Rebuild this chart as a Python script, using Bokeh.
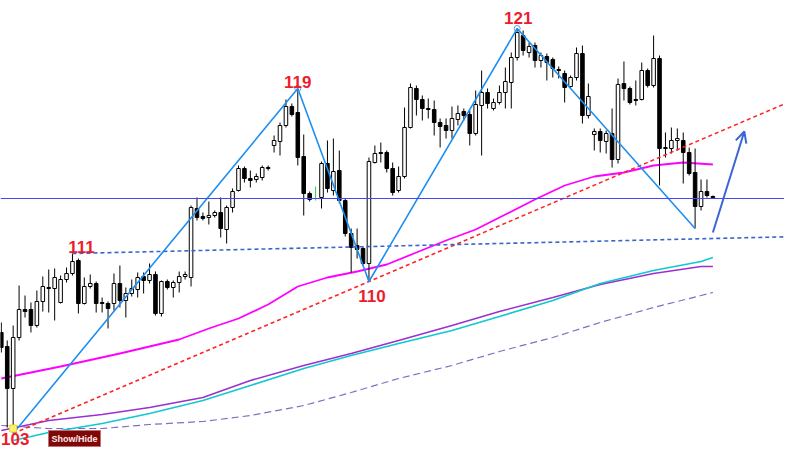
from bokeh.plotting import figure
from bokeh.models import ColumnDataSource, Range1d, Span, Arrow, OpenHead, Label
from bokeh.embed import file_html
from bokeh.resources import INLINE
from bokeh.core.properties import value

# ---------------- data (weekly candles, price in chart points) ----------------
open_ = [131, 117, 75, 126, 154, 154, 138, 162, 176, 175, 161, 184, 190, 203, 160, 177, 180, 161, 160, 160,
         180, 163, 170, 174, 187, 183, 189, 150, 182, 176, 181, 187, 186, 255, 247, 246, 248, 251, 234, 256,
         273, 295, 285, 284, 286, 295, 318, 322, 338, 357, 351, 307, 270, 270, 266, 300, 273, 293, 263, 230,
         218, 215, 200, 301, 311, 311, 295, 273, 287, 336, 375, 364, 355, 354, 341, 338, 333, 344, 352, 349,
         330, 358, 371, 355, 361, 371, 381, 406, 428, 411, 418, 403, 407, 404, 394, 390, 377, 386, 410, 348,
         329, 332, 322, 330, 304, 380, 375, 364, 364, 393, 378, 405, 315, 315, 323, 323, 311, 291, 257, 272,
         267]
high = [141, 123, 138, 178, 168, 161, 173, 187, 194, 195, 188, 196, 210, 205, 186, 189, 182, 166, 162, 190,
        198, 176, 184, 191, 191, 200, 192, 183, 184, 183, 192, 192, 258, 266, 251, 262, 253, 266, 258, 275,
        298, 297, 293, 290, 298, 298, 328, 341, 364, 360, 375, 329, 272, 277, 302, 323, 325, 313, 265, 235,
        235, 217, 306, 318, 321, 313, 301, 297, 356, 380, 378, 368, 365, 363, 345, 345, 357, 358, 355, 353,
        373, 393, 375, 365, 378, 396, 411, 435, 433, 421, 421, 411, 410, 406, 397, 393, 388, 416, 418, 380,
        335, 335, 333, 355, 385, 402, 377, 383, 401, 395, 428, 408, 331, 336, 335, 331, 316, 315, 284, 284,
        268]
low = [111, 36, 30, 123, 146, 131, 136, 152, 151, 143, 160, 181, 188, 150, 159, 175, 151, 151, 135, 153,
       156, 146, 167, 166, 170, 180, 148, 147, 174, 166, 171, 184, 177, 243, 243, 239, 246, 226, 220, 251,
       272, 281, 276, 281, 283, 293, 311, 308, 336, 347, 298, 248, 262, 263, 255, 271, 268, 260, 227, 191,
       205, 198, 182, 300, 301, 291, 268, 271, 285, 335, 348, 343, 345, 328, 316, 325, 325, 338, 343, 318,
       328, 308, 355, 353, 359, 355, 355, 403, 408, 406, 396, 396, 383, 386, 385, 361, 375, 383, 340, 345,
       313, 311, 310, 296, 300, 363, 359, 358, 363, 376, 376, 278, 306, 310, 313, 280, 288, 235, 253, 266,
       265]
close = [116, 75, 126, 154, 152, 138, 162, 177, 175, 186, 184, 190, 202, 160, 177, 180, 160, 160, 155, 180,
         163, 170, 175, 186, 183, 189, 150, 182, 176, 181, 187, 189, 256, 246, 245, 248, 251, 235, 256, 272,
         295, 285, 283, 287, 296, 296, 323, 338, 357, 349, 306, 270, 264, 270, 300, 275, 292, 263, 230, 216,
         214, 200, 302, 310, 310, 295, 271, 287, 336, 376, 364, 355, 354, 341, 337, 333, 345, 350, 348, 330,
         359, 371, 360, 361, 371, 382, 406, 431, 413, 417, 403, 408, 401, 395, 393, 376, 386, 410, 348, 367,
         332, 323, 330, 304, 379, 375, 361, 363, 393, 378, 405, 315, 316, 323, 325, 311, 290, 257, 272, 268,
         266]

# moving averages (bar index, value)
ma_fast_idx = [0, 10, 20, 30, 35, 40, 45, 50, 55, 60, 65, 70, 75, 80, 85, 90, 95, 100, 105, 110, 115, 120]
ma_fast = [85, 97, 110, 124, 135, 145, 159, 177, 186, 192, 199, 211, 223, 234, 249, 264, 278, 287, 291, 298, 301, 299]

ma_slow_idx = [0, 8, 17, 25, 34, 42, 51, 59, 67, 76, 84, 93, 101, 110, 118, 120]
ma_cyan_idx = [2, 8, 17, 25, 34, 42, 51, 59, 67, 76, 84, 93, 101, 110, 118, 120]
ma_cyan = [23, 31, 40, 50, 63, 78, 95, 108, 120, 133, 147, 163, 180, 193, 202, 206]
ma_purple = [33, 43, 49, 56, 66, 83, 98, 110, 123, 138, 152, 166, 179, 190, 197, 197]
ma_dashed = [38, 35, 35, 39, 42, 48, 58, 71, 85, 98, 112, 126, 141, 156, 168, 171]

# zigzag pivots
zigzag_idx = [2, 50, 62, 87, 117]
zigzag_kind = ["L", "H", "L", "H", "L"]

# pivot labels: (bar index, kind, text, x offset px, y offset px)
label_idx = [2, 12, 50, 62, 87]
label_kind = ["L", "H", "H", "L", "H"]
label_text = ["103", "111", "119", "110", "121"]
label_dx = [2, 9, 0, 3, 1]
label_dy = [5, -7, -7, 14, -11]

# levels / trend lines (anchors in bar index, price)
horizontal_level = 265
red_trend = [(2, 30), (120, 329)]
neck_trend = [(12, 210), (120, 225)]
trend_end_idx = 136
projection = [(120, 231), (125.3, 332)]

# ---------------- figure ----------------
p = figure(width=784, height=447, output_backend="svg", toolbar_location=None,
           x_range=Range1d(-0.135, 132.075), y_range=Range1d(16, 463),
           x_axis_location=None, y_axis_location=None, min_border=0)
p.outline_line_color = None
p.background_fill_color = "white"
p.border_fill_color = "white"
p.grid.visible = False

FONT_NAME = "Liberation Sans"
FONT = value(FONT_NAME)

# moving averages
p.line(ma_slow_idx, ma_dashed, color="#7d6fc4", line_width=1.2, line_dash="7 4")
p.line(ma_slow_idx, ma_purple, color="#9a30d0", line_width=1.6)
p.line(ma_cyan_idx, ma_cyan, color="#10c8d0", line_width=1.6)
p.line(ma_fast_idx, ma_fast, color="#ff00ff", line_width=1.8)

# horizontal level
p.add_layout(Span(location=horizontal_level, dimension="width", line_color="#4646ff", line_width=1))

# candles
n = len(open_)
idx = list(range(n))
up = [c > o for o, c in zip(open_, close)]
doji = [c == o for o, c in zip(open_, close)]
wick_col = ["#3ccc3c" if d else "black" for d in doji]
src = ColumnDataSource(dict(x=idx, l=low, h=high, lc=wick_col))
p.segment(x0="x", y0="l", x1="x", y1="h", source=src, line_color="lc", line_width=1)
keep = [i for i in idx if not doji[i]]
bsrc = ColumnDataSource(dict(
    x=keep,
    top=[max(open_[i], close[i]) for i in keep],
    bot=[min(open_[i], close[i]) for i in keep],
    fill=["white" if up[i] else "black" for i in keep],
))
p.vbar(x="x", top="top", bottom="bot", width=0.6, source=bsrc, fill_color="fill", line_color="black", line_width=1)

# trend lines
def extend(a, b, x_end):
    (x0, y0), (x1, y1) = a, b
    s = (y1 - y0) / (x1 - x0)
    return [x0, x_end], [y0, y0 + s * (x_end - x0)]

rx, ry = extend(red_trend[0], red_trend[1], trend_end_idx)
p.line(rx, ry, color="#ff2424", line_width=1.6, line_dash="4 3")
nx, ny = extend(neck_trend[0], neck_trend[1], trend_end_idx)
p.line(nx, ny, color="#3a66cc", line_width=1.6, line_dash="4 3")

# zigzag
zz_y = [low[i] if k == "L" else high[i] for i, k in zip(zigzag_idx, zigzag_kind)]
p.line(zigzag_idx, zz_y, color="#1e8ff0", line_width=1.6)
p.scatter([zigzag_idx[1], zigzag_idx[3]], [zz_y[1], zz_y[3]], marker="circle", size=6,
          fill_color=None, line_color="#5a9ae0", line_width=1)
p.scatter([zigzag_idx[0]], [zz_y[0] + 5], marker="square", size=7,
          fill_color="#fbf26a", line_color="#e8d830", line_width=1)

# projection arrow
p.add_layout(Arrow(end=OpenHead(size=11, line_color="#3c64d6", line_width=2),
                   x_start=projection[0][0], y_start=projection[0][1],
                   x_end=projection[1][0], y_end=projection[1][1],
                   line_color="#3c64d6", line_width=2))

# pivot labels
lsrc = ColumnDataSource(dict(
    x=label_idx,
    y=[low[i] if k == "L" else high[i] for i, k in zip(label_idx, label_kind)],
    t=label_text, dx=label_dx, dy=label_dy,
))
p.text(x="x", y="y", text="t", x_offset="dx", y_offset="dy", source=lsrc,
       text_align="center", text_baseline="middle", text_font=FONT,
       text_font_style="bold", text_font_size="17px", text_color="#ee1b2e")

# Show/Hide button
p.add_layout(Label(x=48, y=1, x_units="screen", y_units="screen", text="Show/Hide",
                   text_font=FONT_NAME, text_font_style="bold", text_font_size="9px",
                   text_color="#ffe8e8", background_fill_color="#7e0808",
                   border_line_color="#c07070", border_line_width=1, padding=3))

open("out.html", "w").write(file_html(p, INLINE))
